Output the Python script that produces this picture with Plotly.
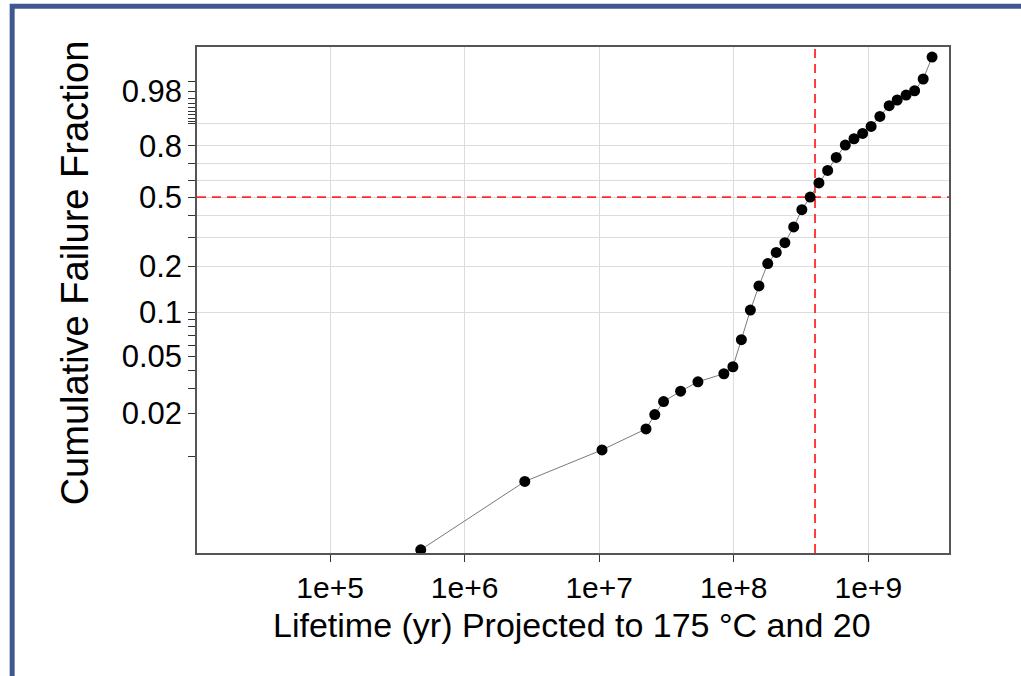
import numpy as np
import plotly.graph_objects as go

# ---- data ----
lifetime_yr = [4.72e5, 2.80e6, 1.05e7, 2.23e7, 2.59e7, 3.01e7, 4.03e7, 5.42e7,
               8.45e7, 9.86e7, 1.14e8, 1.33e8, 1.54e8, 1.79e8, 2.07e8, 2.40e8,
               2.79e8, 3.21e8, 3.70e8, 4.30e8, 4.99e8, 5.78e8, 6.75e8, 7.83e8,
               9.08e8, 1.05e9, 1.22e9, 1.43e9, 1.64e9, 1.91e9, 2.21e9, 2.56e9,
               2.98e9]
cum_fail = [0.00218, 0.00664, 0.0111, 0.0156, 0.0197, 0.0243, 0.0287, 0.0334,
            0.0380, 0.0425, 0.0654, 0.1039, 0.150, 0.209, 0.245, 0.281,
            0.347, 0.432, 0.501, 0.583, 0.658, 0.735, 0.803, 0.835,
            0.860, 0.8896, 0.9254, 0.9546, 0.9664, 0.9748, 0.9807, 0.99163,
            0.99894]

y_label_vals = [0.02, 0.05, 0.1, 0.2, 0.5, 0.8, 0.98]
y_label_text = ["0.02", "0.05", "0.1", "0.2", "0.5", "0.8", "0.98"]
y_minor_vals = [0.01, 0.03, 0.04, 0.06, 0.07, 0.08, 0.09, 0.3, 0.4, 0.6, 0.7,
                0.9, 0.91, 0.92, 0.93, 0.94, 0.95, 0.96, 0.97, 0.99]
y_grid_vals = [0.1, 0.2, 0.3, 0.4, 0.5, 0.6, 0.7, 0.8, 0.9]
x_tick_vals = [1e5, 1e6, 1e7, 1e8, 1e9]
x_tick_text = ["1e+5", "1e+6", "1e+7", "1e+8", "1e+9"]
ref_fraction = 0.5
ref_lifetime = 4.02e8


def weibull(f):
    f = np.asarray(f, dtype=float)
    return np.log(-np.log(1.0 - f))


FONT = "Liberation Sans, Arial, sans-serif"
xr = [4.011, 9.6]
yr = [-6.180, 2.088]
RED = "#ff2a2a"
DASH = "9px,6px"

fig = go.Figure()

# reference lines (drawn first so the points sit on top)
w_ref = float(weibull(ref_fraction))
fig.add_trace(go.Scatter(x=[10 ** xr[0], 10 ** xr[1]], y=[w_ref, w_ref],
                         mode="lines", line=dict(color=RED, width=1.8, dash=DASH),
                         showlegend=False, hoverinfo="skip"))
fig.add_trace(go.Scatter(x=[ref_lifetime, ref_lifetime], y=yr,
                         mode="lines", line=dict(color=RED, width=1.8, dash=DASH),
                         showlegend=False, hoverinfo="skip"))

fig.add_trace(go.Scatter(
    x=lifetime_yr, y=weibull(cum_fail), mode="lines+markers",
    line=dict(color="#7a7a7a", width=1),
    marker=dict(color="black", size=11),
    showlegend=False, hoverinfo="skip"))

# invisible trace on overlay axis so it renders its grid
fig.add_trace(go.Scatter(x=[lifetime_yr[0]], y=[w_ref], yaxis="y2",
                         mode="markers", marker=dict(opacity=0),
                         showlegend=False, hoverinfo="skip"))

fig.update_layout(
    width=1021, height=676,
    margin=dict(l=197, r=72, t=47, b=123),
    paper_bgcolor="white", plot_bgcolor="white",
    font=dict(family=FONT, color="black"),
    xaxis=dict(
        type="log", range=xr,
        tickvals=x_tick_vals, ticktext=x_tick_text,
        tickfont=dict(size=30, family=FONT, color="black"),
        ticks="outside", ticklen=7, tickcolor="#333", tickwidth=1,
        showgrid=True, gridcolor="#dcdcdc", gridwidth=1,
        showline=True, linecolor="#555", linewidth=1.5, mirror=True,
        zeroline=False),
    yaxis=dict(
        range=yr,
        tickvals=list(weibull(y_label_vals)), ticktext=y_label_text,
        tickfont=dict(size=31, family=FONT, color="black"),
        ticks="outside", ticklen=7, tickcolor="#333", tickwidth=1,
        minor=dict(tickvals=list(weibull(y_minor_vals)), ticks="outside",
                   ticklen=7, tickcolor="#333", tickwidth=1, showgrid=False),
        showgrid=False,
        showline=True, linecolor="#555", linewidth=1.5, mirror=True,
        zeroline=False, ticklabelstandoff=0),
    yaxis2=dict(
        overlaying="y", range=yr, side="left",
        tickvals=list(weibull(y_grid_vals)), showticklabels=False,
        ticks="", showgrid=True, gridcolor="#dcdcdc", gridwidth=1.2,
        showline=False, zeroline=False),
)

# outer frame (top and left edges visible)
fig.add_shape(type="rect", xref="paper", yref="paper",
              x0=-0.2458, y0=-0.3, x1=1.2, y1=1.0803,
              line=dict(color="#3f5891", width=5), fillcolor="rgba(0,0,0,0)",
              layer="above")

fig.add_annotation(text="Cumulative Failure Fraction", textangle=-90,
                   xref="paper", yref="paper", x=-0.1627, y=0.554,
                   xanchor="center", yanchor="middle",
                   showarrow=False, font=dict(size=38, family=FONT, color="black"))
fig.add_annotation(text="Lifetime (yr) Projected to 175 °C and 20",
                   xref="paper", yref="paper", x=0.499, y=-0.1417,
                   xanchor="center", yanchor="middle",
                   showarrow=False, font=dict(size=34, family=FONT, color="black"))

fig.write_html("out.html")
